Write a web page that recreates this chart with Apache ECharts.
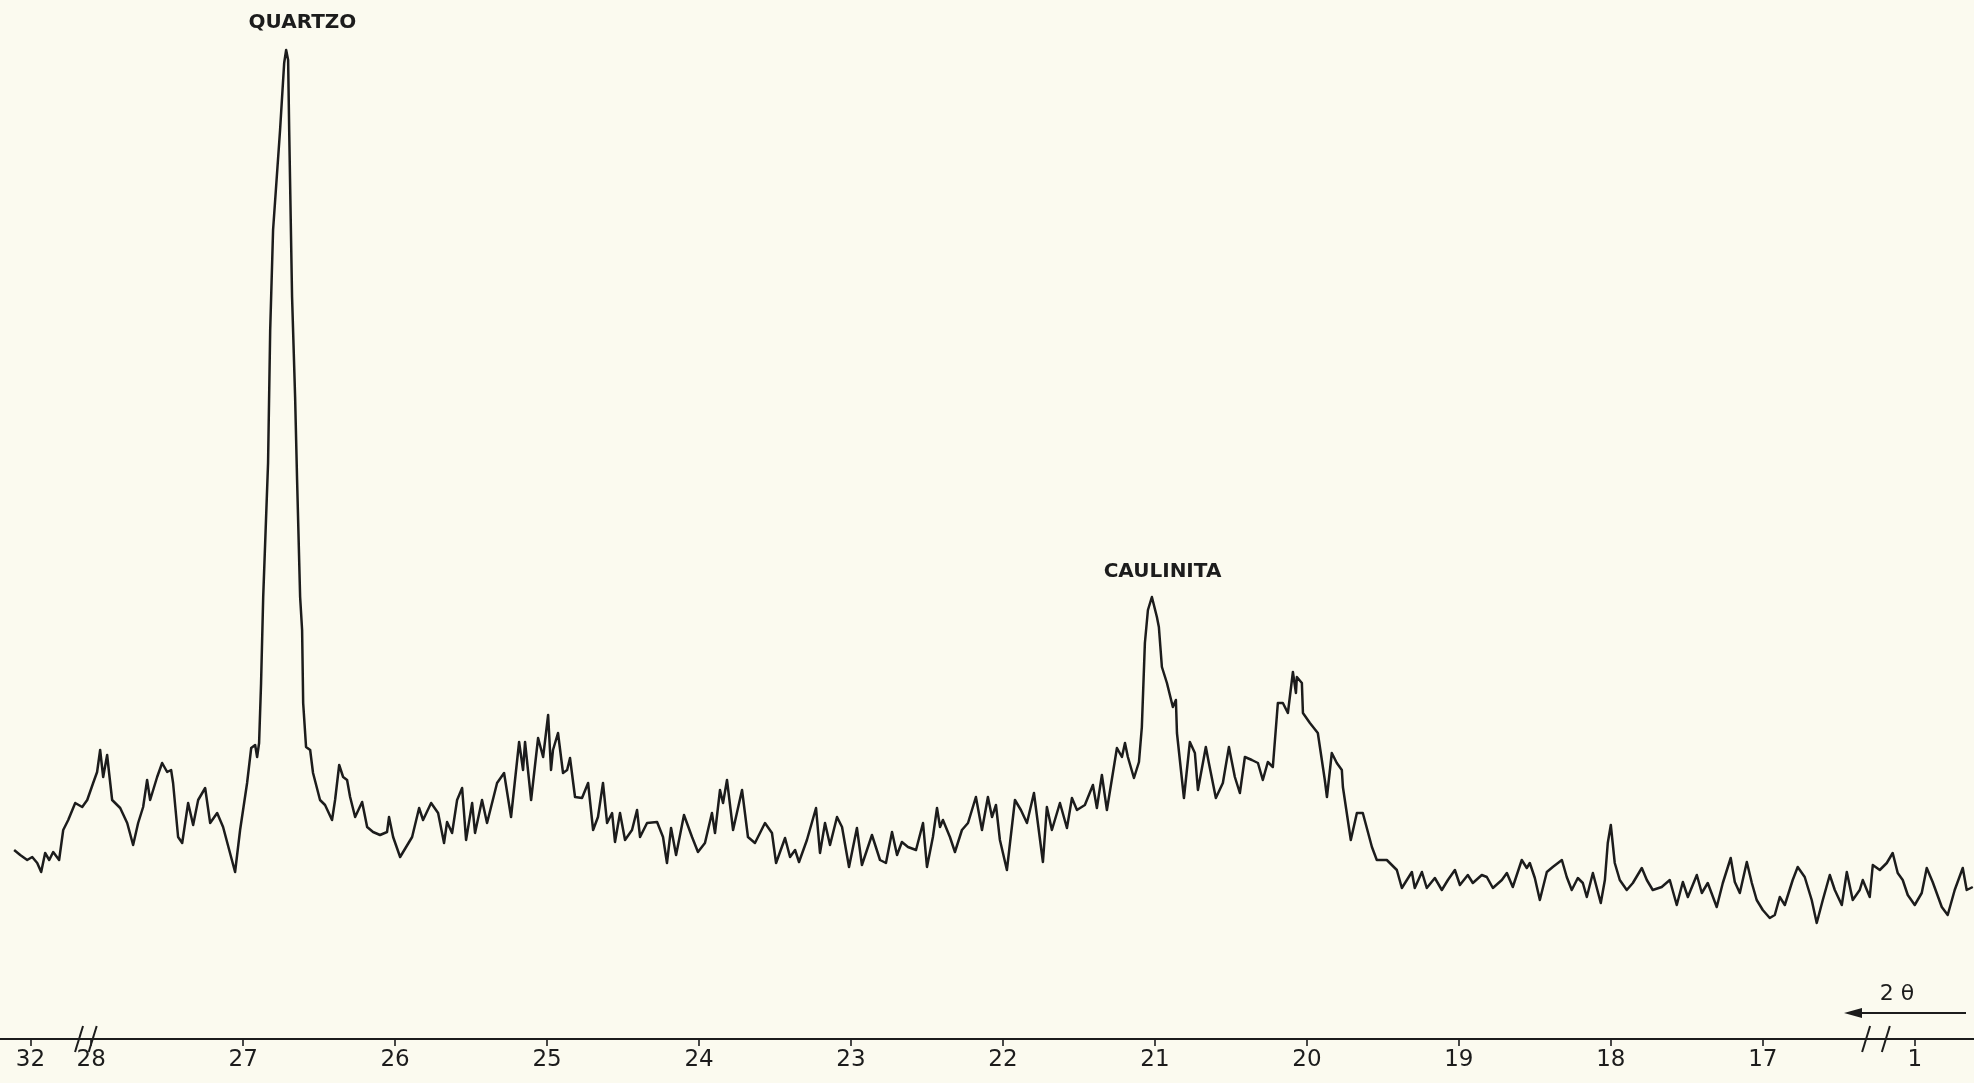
<!DOCTYPE html>
<html>
<head>
<meta charset="utf-8">
<title>Difratograma de raios X</title>
<script src="https://cdn.jsdelivr.net/npm/echarts@6/dist/echarts.min.js"></script>
<style>
  html, body { margin: 0; padding: 0; background: #fbfaef; }
  #chart { width: 1974px; height: 1083px; }
</style>
</head>
<body>
<div id="chart"></div>
<script>
// Diffractometer trace: 2θ (degrees) and relative intensity
const twoTheta = [
  28.507, 28.467, 28.421, 28.388, 28.355, 28.329, 28.303, 28.276, 28.250, 28.211,
  28.184, 28.151, 28.105, 28.059, 28.026, 27.987, 27.961, 27.941, 27.921, 27.895,
  27.882, 27.862, 27.809, 27.763, 27.724, 27.691, 27.658, 27.632, 27.612, 27.566,
  27.533, 27.500, 27.474, 27.461, 27.428, 27.401, 27.362, 27.329, 27.296, 27.250,
  27.217, 27.171, 27.132, 27.053, 27.020, 26.974, 26.947, 26.921, 26.908, 26.895,
  26.882, 26.868, 26.836, 26.822, 26.803, 26.757, 26.730, 26.717, 26.704, 26.697,
  26.678, 26.658, 26.645, 26.625, 26.612, 26.605, 26.586, 26.559, 26.540, 26.494,
  26.461, 26.415, 26.395, 26.368, 26.342, 26.316, 26.296, 26.263, 26.217, 26.184,
  26.145, 26.099, 26.053, 26.040, 26.013, 25.967, 25.888, 25.842, 25.816, 25.763,
  25.717, 25.678, 25.658, 25.625, 25.592, 25.559, 25.533, 25.493, 25.474, 25.428,
  25.395, 25.329, 25.283, 25.237, 25.184, 25.158, 25.145, 25.105, 25.059, 25.026,
  24.993, 24.974, 24.961, 24.928, 24.895, 24.868, 24.849, 24.816, 24.770, 24.730,
  24.697, 24.665, 24.632, 24.605, 24.572, 24.553, 24.520, 24.487, 24.441, 24.408,
  24.388, 24.342, 24.276, 24.237, 24.211, 24.184, 24.151, 24.099, 24.046, 24.007,
  23.961, 23.915, 23.895, 23.862, 23.842, 23.816, 23.776, 23.717, 23.678, 23.632,
  23.566, 23.520, 23.493, 23.434, 23.401, 23.368, 23.342, 23.290, 23.230, 23.204,
  23.171, 23.138, 23.092, 23.059, 23.013, 22.961, 22.928, 22.895, 22.862, 22.809,
  22.770, 22.730, 22.697, 22.665, 22.625, 22.572, 22.526, 22.500, 22.461, 22.434,
  22.414, 22.395, 22.349, 22.316, 22.270, 22.230, 22.178, 22.138, 22.099, 22.072,
  22.046, 22.020, 21.974, 21.921, 21.882, 21.842, 21.796, 21.737, 21.711, 21.678,
  21.625, 21.579, 21.546, 21.513, 21.461, 21.408, 21.382, 21.349, 21.316, 21.250,
  21.217, 21.197, 21.178, 21.138, 21.105, 21.086, 21.066, 21.046, 21.020, 20.987,
  20.974, 20.954, 20.921, 20.882, 20.862, 20.855, 20.809, 20.770, 20.737, 20.717,
  20.665, 20.645, 20.599, 20.553, 20.513, 20.474, 20.441, 20.408, 20.362, 20.322,
  20.290, 20.257, 20.224, 20.191, 20.158, 20.125, 20.092, 20.072, 20.066, 20.033,
  20.026, 19.980, 19.928, 19.882, 19.868, 19.836, 19.803, 19.770, 19.763, 19.711,
  19.671, 19.632, 19.572, 19.540, 19.474, 19.408, 19.375, 19.309, 19.290, 19.243,
  19.211, 19.158, 19.112, 19.072, 19.026, 18.993, 18.941, 18.908, 18.849, 18.816,
  18.776, 18.717, 18.684, 18.645, 18.586, 18.553, 18.533, 18.500, 18.467, 18.421,
  18.382, 18.322, 18.290, 18.257, 18.217, 18.184, 18.158, 18.118, 18.066, 18.039,
  18.020, 18.000, 17.974, 17.941, 17.895, 17.855, 17.796, 17.763, 17.724, 17.665,
  17.612, 17.566, 17.526, 17.493, 17.434, 17.401, 17.362, 17.303, 17.263, 17.211,
  17.184, 17.151, 17.105, 17.072, 17.040, 17.000, 16.954, 16.921, 16.888, 16.855,
  16.803, 16.770, 16.724, 16.678, 16.645, 16.605, 16.559, 16.526, 16.480, 16.447,
  16.408, 16.362, 16.342, 16.296, 16.276, 16.230, 16.184, 16.145, 16.112, 16.079,
  16.046, 16.000, 15.954, 15.921, 15.882, 15.822, 15.783, 15.737, 15.684, 15.658,
  15.618
];
const intensity = [
  20.0, 19.5, 19.0, 19.3, 18.7, 17.8, 19.7, 19.0, 19.8, 19.0,
  22.0, 23.0, 24.7, 24.3, 25.0, 26.7, 27.8, 30.0, 27.3, 29.5,
  27.7, 25.0, 24.2, 22.7, 20.5, 22.7, 24.3, 27.0, 25.0, 27.3,
  28.7, 27.8, 28.0, 26.7, 21.3, 20.7, 24.7, 22.5, 25.0, 26.2,
  22.7, 23.7, 22.3, 17.8, 22.0, 26.7, 30.2, 30.5, 29.3, 30.7,
  36.7, 45.3, 58.7, 72.0, 82.0, 92.0, 98.7, 100.0, 99.0, 92.0,
  75.3, 65.3, 57.0, 45.3, 42.0, 34.7, 30.3, 30.0, 27.7, 25.0,
  24.5, 23.0, 25.0, 28.5, 27.3, 27.0, 25.3, 23.3, 24.8, 22.3,
  21.8, 21.5, 21.8, 23.3, 21.3, 19.3, 21.3, 24.2, 23.0, 24.7,
  23.7, 20.7, 22.8, 21.7, 25.0, 26.2, 21.0, 24.7, 21.7, 25.0,
  22.7, 26.7, 27.7, 23.3, 30.8, 28.0, 30.8, 25.0, 31.2, 29.3,
  33.5, 28.0, 30.0, 31.7, 27.7, 28.0, 29.2, 25.3, 25.2, 26.7,
  22.0, 23.3, 26.7, 22.7, 23.7, 20.8, 23.7, 21.0, 22.0, 24.0,
  21.3, 22.7, 22.8, 21.3, 18.7, 22.2, 19.5, 23.5, 21.3, 19.8,
  20.7, 23.7, 21.7, 26.0, 24.7, 27.0, 22.0, 26.0, 21.3, 20.7,
  22.7, 21.7, 18.7, 21.2, 19.3, 20.0, 18.8, 21.0, 24.2, 19.7,
  22.7, 20.5, 23.3, 22.3, 18.3, 22.2, 18.5, 20.0, 21.5, 19.0,
  18.7, 21.8, 19.5, 20.8, 20.3, 20.0, 22.7, 18.3, 21.3, 24.2,
  22.3, 23.0, 21.3, 19.8, 22.0, 22.7, 25.3, 22.0, 25.3, 23.3,
  24.5, 21.0, 18.0, 25.0, 24.0, 22.7, 25.7, 18.8, 24.3, 22.0,
  24.7, 22.2, 25.2, 24.0, 24.5, 26.5, 24.2, 27.5, 24.0, 30.2,
  29.3, 30.7, 29.3, 27.2, 28.8, 32.3, 40.7, 44.0, 45.3, 43.3,
  42.3, 38.3, 36.7, 34.3, 35.0, 31.7, 25.2, 30.8, 29.7, 26.0,
  30.3, 28.7, 25.2, 26.7, 30.3, 27.3, 25.7, 29.3, 29.0, 28.7,
  27.0, 28.8, 28.3, 34.7, 34.7, 33.7, 37.8, 35.7, 37.3, 36.7,
  33.7, 32.7, 31.7, 27.0, 25.3, 29.7, 28.7, 28.0, 26.3, 21.0,
  23.7, 23.7, 20.3, 19.0, 19.0, 18.0, 16.2, 17.8, 16.2, 17.8,
  16.2, 17.2, 16.0, 17.0, 18.0, 16.5, 17.5, 16.7, 17.5, 17.3,
  16.2, 17.0, 17.7, 16.3, 19.0, 18.2, 18.7, 17.2, 15.0, 17.8,
  18.3, 19.0, 17.3, 16.0, 17.2, 16.7, 15.3, 17.7, 14.7, 17.0,
  20.7, 22.5, 18.7, 17.0, 16.0, 16.7, 18.2, 17.0, 16.0, 16.3,
  17.0, 14.5, 16.8, 15.3, 17.5, 15.7, 16.7, 14.3, 16.7, 19.2,
  16.8, 15.7, 18.8, 16.7, 15.0, 14.0, 13.2, 13.5, 15.3, 14.5,
  17.0, 18.3, 17.3, 15.0, 12.7, 15.0, 17.5, 16.0, 14.5, 17.8,
  15.0, 16.0, 17.0, 15.3, 18.5, 18.0, 18.7, 19.7, 17.7, 17.0,
  15.5, 14.5, 15.7, 18.2, 16.8, 14.3, 13.5, 16.0, 18.2, 16.0,
  16.3
];

// Axis graduations (the first and last marks sit after scale breaks)
const tickValues = [28.4, 28, 27, 26, 25, 24, 23, 22, 21, 20, 19, 18, 17, 16];
const tickLabels = ['32', '28', '27', '26', '25', '24', '23', '22', '21', '20', '19', '18', '17', '1'];

// Scale-break pairs along the 2θ axis
const scaleBreaks = [[28.08, 27.99], [16.32, 16.19]];

// Peak annotations: [text, 2θ, intensity]
const peakNotes = [['QUARTZO', 26.61, 102.7], ['CAULINITA', 20.95, 47.8]];

const ink = '#1c1c1c';
const paper = '#fbfaef';
const font = 'DejaVu Sans';

const trace = twoTheta.map((t, i) => [t, intensity[i]]);

function labelFor(v) {
  let best = 0, d = Infinity;
  tickValues.forEach((t, i) => {
    const dd = Math.abs(t - v);
    if (dd < d) { d = dd; best = i; }
  });
  return d < 1e-6 ? tickLabels[best] : '';
}

const chart = echarts.init(document.getElementById('chart'), null, { renderer: 'canvas' });

chart.setOption({
  backgroundColor: paper,
  animation: false,
  grid: { left: 0, right: 0, top: 0, bottom: 44, containLabel: false },
  xAxis: {
    type: 'value',
    inverse: true,
    min: 15.61,
    max: 28.60,
    splitLine: { show: false },
    axisLine: { show: true, lineStyle: { color: ink, width: 1.8 } },
    axisTick: {
      show: true,
      customValues: tickValues,
      length: 7,
      lineStyle: { color: ink, width: 1.6 }
    },
    axisLabel: {
      customValues: tickValues,
      formatter: labelFor,
      fontFamily: font,
      fontSize: 23,
      color: ink,
      margin: 10
    }
  },
  yAxis: { type: 'value', min: 1.1, max: 105, show: false },
  series: [{
    type: 'line',
    data: trace,
    showSymbol: false,
    smooth: false,
    lineStyle: { color: ink, width: 2.5, join: 'round' }
  }]
});

// Decorations: peak names, scale breaks and the 2θ direction arrow
const axisY = chart.convertToPixel({ yAxisIndex: 0 }, 1.1);
const gfx = [];

peakNotes.forEach(([txt, t, v]) => {
  const [px, py] = chart.convertToPixel({ seriesIndex: 0 }, [t, v]);
  gfx.push({
    type: 'text', x: px, y: py,
    style: { text: txt, fill: ink, font: 'bold 20px "DejaVu Sans"', align: 'center', verticalAlign: 'middle' }
  });
});

// left end of the base line starts a little inside the frame
gfx.push({ type: 'rect', shape: { x: 0, y: axisY - 3, width: 9, height: 6 }, style: { fill: paper } });

scaleBreaks.forEach(([a, b]) => {
  const xa = chart.convertToPixel({ xAxisIndex: 0 }, a);
  const xb = chart.convertToPixel({ xAxisIndex: 0 }, b);
  gfx.push({ type: 'rect', shape: { x: xa, y: axisY - 3, width: xb - xa, height: 6 }, style: { fill: paper } });
  [xa, xb].forEach(x => {
    gfx.push({
      type: 'line',
      shape: { x1: x - 4, y1: axisY + 13, x2: x + 4, y2: axisY - 13 },
      style: { stroke: ink, lineWidth: 2 }
    });
  });
});

const arrowY = axisY - 26;
gfx.push({
  type: 'line',
  shape: { x1: 1858, y1: arrowY, x2: 1966, y2: arrowY },
  style: { stroke: ink, lineWidth: 1.8 }
});
gfx.push({
  type: 'polygon',
  shape: { points: [[1844, arrowY], [1862, arrowY - 5], [1862, arrowY + 5]] },
  style: { fill: ink }
});
gfx.push({
  type: 'text', x: 1897, y: arrowY - 19,
  style: { text: '2 θ', fill: ink, font: '22px "DejaVu Sans"', align: 'center', verticalAlign: 'middle' }
});

chart.setOption({ graphic: gfx });
</script>
</body>
</html>
